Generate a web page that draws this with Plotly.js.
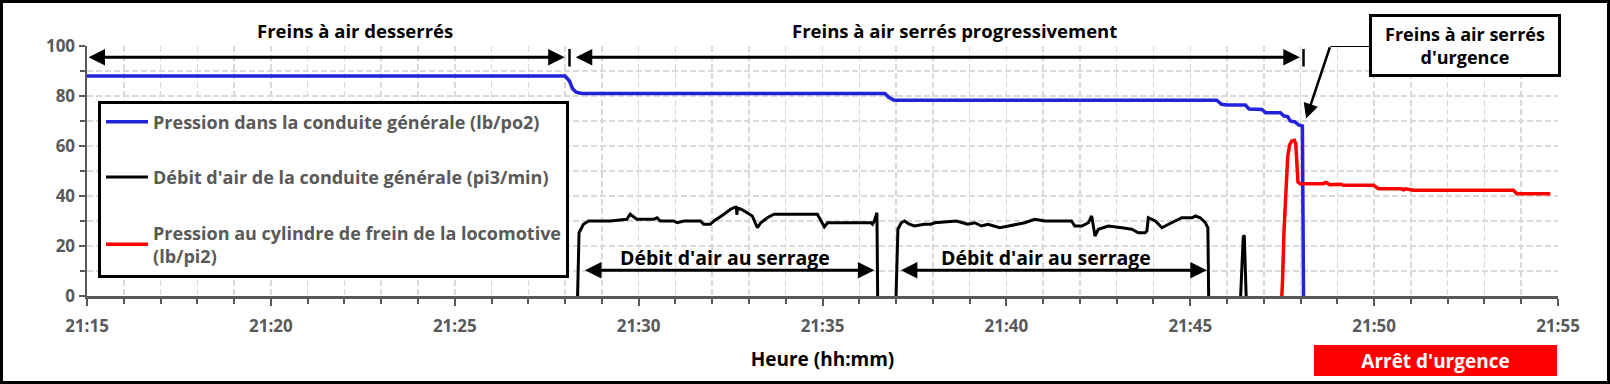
<!DOCTYPE html>
<html>
<head>
<meta charset="utf-8">
<script src="https://cdn.plot.ly/plotly-3.0.1.min.js"></script>
<style>
  html, body { margin:0; padding:0; background:#fff; }
  #chart { width:1604px; height:378px; border:3px solid #000; }
</style>
</head>
<body>
<div id="chart"></div>
<script>
// Time axis: minutes after 21:15
const tickVals = [0, 5, 10, 15, 20, 25, 30, 35, 40];
const tickLabels = ['21:15', '21:20', '21:25', '21:30', '21:35', '21:40', '21:45', '21:50', '21:55'];

const seriesNames = [
  'Pression dans la conduite générale (lb/po2)',
  "Débit d'air de la conduite générale (pi3/min)",
  'Pression au cylindre de frein de la locomotive<br>(lb/pi2)'
];

// Pression dans la conduite générale (lb/po2)
const brakePipeT = [0, 13.0, 13.12, 13.2, 13.3, 13.45, 21.7, 21.8, 21.95, 30.72, 30.85, 31.0, 31.5, 31.6, 31.95, 32.05, 32.45, 32.55, 32.65, 32.72, 32.85, 32.95, 33.05, 33.08];
const brakePipeP = [88, 88, 86, 83, 81.5, 81, 81, 79.5, 78.3, 78.3, 76.7, 76.4, 76.4, 74.8, 74.6, 73.3, 73.3, 72, 71.8, 70, 69.6, 68.4, 68, 0];

// Débit d'air de la conduite générale (pi3/min) — null where the flow rests at zero (under the axis)
const airFlowT = [13.34, 13.38, 13.50, 13.64, 14.23, 14.68, 14.77, 14.95, 15.41, 15.50, 15.59, 15.95, 16.05, 16.23, 16.68, 16.77, 16.95, 17.05, 17.32, 17.50, 17.62, 17.66, 17.67, 17.69, 17.82, 18.00, 18.09, 18.23, 18.32, 18.50, 18.68, 19.86, 20.00, 20.05, 20.14, 21.32, 21.36, 21.41, 21.48, 21.50, 21.75,
  22.00, 22.05, 22.14, 22.23, 22.36, 22.50, 22.77, 22.95, 23.05, 23.64, 23.95, 24.14, 24.32, 24.50, 24.82, 25.05, 25.23, 25.50, 25.77, 26.05, 26.77, 26.86, 27.05, 27.23, 27.32, 27.41, 27.50, 27.77, 28.14, 28.41, 28.59, 28.77, 28.82, 28.86, 29.05, 29.23, 29.41, 29.59, 29.77, 30.05, 30.14, 30.27, 30.41, 30.48, 30.50, 30.9,
  31.37, 31.44, 31.47, 31.52];
const airFlowQ = [0, 25.3, 28.7, 30, 30, 30.7, 32.7, 30.7, 30.7, 31.3, 30, 30, 29.3, 30, 30, 28.7, 28.7, 30, 32.7, 34.7, 35.5, 35.5, 32.5, 35.3, 34.5, 32.7, 32, 27.3, 29.3, 31.3, 32.7, 32.7, 29.3, 27.7, 29.3, 29.3, 28.7, 30, 33.3, 0, null,
  0, 26.7, 29.3, 30, 28.7, 28, 28.7, 28.7, 29.3, 30, 28.7, 29.3, 28, 28.7, 27.3, 28, 28.7, 29.3, 30.7, 30, 30, 28, 28, 29.3, 32, 24, 26.7, 28, 27.3, 26.7, 25.3, 25.3, 26, 31.3, 30, 27.3, 28.7, 30, 31.3, 31.3, 32, 31.3, 29.3, 27.3, 0, null,
  0, 23.5, 24.3, 0];

// Pression au cylindre de frein de la locomotive (lb/pi2)
const cylinderT = [32.49, 32.51, 32.55, 32.61, 32.65, 32.70, 32.76, 32.83, 32.87, 32.90, 32.93, 32.99, 33.6, 33.7, 33.8, 34.1, 34.16, 34.98, 35.12, 35.75, 35.8, 35.85, 36.07, 38.79, 38.88, 39.79];
const cylinderP = [0, 6.3, 26.3, 46.3, 55.6, 60.3, 62, 62.3, 60.9, 52.9, 45.6, 44.9, 44.9, 45.4, 44.5, 44.7, 44.3, 44.3, 42.9, 42.9, 42.4, 42.9, 42.3, 42.3, 40.9, 40.9];

// Annotation texts
const phaseLabels = ['Freins à air desserrés', 'Freins à air serrés progressivement'];
const flowLabel = "Débit d'air au serrage";
const urgentLabel = "Freins à air serrés<br>d'urgence";
const stopLabel = "Arrêt d'urgence";

const FONT = "'Open Sans', sans-serif";
const GRID = '#D9D9D9';
const AXIS = '#595959';

const traces = [
  { x: brakePipeT, y: brakePipeP, name: seriesNames[0], mode: 'lines', line: { color: '#2222DD', width: 3.5 }, legendgroup: 'a' },
  { x: airFlowT, y: airFlowQ, name: seriesNames[1], mode: 'lines', line: { color: '#000000', width: 3 }, legendgroup: 'b', connectgaps: false },
  { x: cylinderT, y: cylinderP, name: seriesNames[2], mode: 'lines', line: { color: '#FF0000', width: 3.5 }, legendgroup: 'c' }
];

function dblArrow(x0, x1, y) {
  return { x: x1, y: y, ax: x0, ay: y, xref: 'x', yref: 'y', axref: 'x', ayref: 'y', text: '', showarrow: true,
    arrowside: 'end+start', arrowhead: 2, startarrowhead: 2, arrowwidth: 3, arrowsize: 1.1, startarrowsize: 1.1,
    standoff: 0, startstandoff: 0, arrowcolor: '#000' };
}
function label(txt, x, y, yref, size) {
  return { x: x, y: y, xref: 'x', yref: yref, text: txt, showarrow: false, xanchor: 'center', yanchor: 'middle',
    font: { family: FONT, size: size, color: '#000', weight: 'bold' } };
}

const annotations = [
  label(phaseLabels[0], 7.3, 1.062, 'paper', 18.5),
  label(phaseLabels[1], 23.6, 1.062, 'paper', 18.5),
  dblArrow(0, 12.99, 95.5),
  dblArrow(13.25, 32.98, 95.5),
  label(flowLabel, 17.36, 15.6, 'y', 19.5),
  label(flowLabel, 26.09, 15.6, 'y', 19.5),
  dblArrow(13.5, 21.41, 10.3),
  dblArrow(22.09, 30.45, 10.3),
  { x: 37.46, y: 1.002, xref: 'x', yref: 'paper', xanchor: 'center', yanchor: 'middle', text: urgentLabel, showarrow: false,
    width: 186, height: 57, borderpad: 0, borderwidth: 3, bordercolor: '#000', bgcolor: '#fff',
    font: { family: FONT, size: 18, color: '#000', weight: 'bold' } },
  { x: 33.15, y: 71.0, ax: 33.81, ay: 100.1, xref: 'x', yref: 'y', axref: 'x', ayref: 'y', text: '', showarrow: true,
    arrowhead: 2, arrowwidth: 2.5, arrowsize: 1.2, standoff: 0, arrowcolor: '#000' },
  { x: 36.66, y: -0.258, xref: 'x', yref: 'paper', xanchor: 'center', yanchor: 'middle', text: stopLabel, showarrow: false,
    width: 243, height: 31, borderpad: 0, borderwidth: 0, bgcolor: '#FF0000',
    font: { family: FONT, size: 19, color: '#fff', weight: 'bold' } }
];

const shapes = [
  { type: 'line', xref: 'x', yref: 'y', x0: 13.12, x1: 13.12, y0: 91.8, y1: 98.8, line: { color: '#000', width: 2.5 } },
  { type: 'line', xref: 'x', yref: 'y', x0: 33.08, x1: 33.08, y0: 91.8, y1: 98.8, line: { color: '#000', width: 2.5 } },
  { type: 'line', xref: 'x', yref: 'y', x0: 33.81, x1: 34.9, y0: 100.1, y1: 100.1, line: { color: '#000', width: 2.5 } }
];

const layout = {
  width: 1604, height: 378,
  margin: { l: 84, r: 49, t: 43, b: 85 },
  paper_bgcolor: '#fff', plot_bgcolor: '#fff',
  font: { family: FONT, color: AXIS },
  showlegend: true,
  legend: {
    x: 0.0075, y: 0.782, xanchor: 'left', yanchor: 'top',
    bgcolor: '#fff', bordercolor: '#000', borderwidth: 3,
    font: { family: FONT, size: 18, color: '#595959', weight: 'bold' },
    tracegroupgap: 29, traceorder: 'grouped', itemwidth: 42
  },
  xaxis: {
    range: [0, 40], tickmode: 'array', tickvals: tickVals, ticktext: tickLabels,
    showline: true, linecolor: AXIS, linewidth: 2.5,
    ticks: 'outside', ticklen: 7, tickwidth: 2, tickcolor: AXIS,
    ticklabelstandoff: 6,
    tickfont: { family: FONT, size: 17, color: AXIS, weight: 'bold' },
    showgrid: true, gridcolor: GRID, gridwidth: 1.5, griddash: '6px,3px',
    zeroline: false,
    minor: { tickmode: 'linear', tick0: 0, dtick: 1, ticks: 'outside', ticklen: 5, tickwidth: 2, tickcolor: AXIS,
      showgrid: true, gridcolor: GRID, gridwidth: 1.5, griddash: '6px,3px' },
    title: { text: 'Heure (hh:mm)', standoff: 17, font: { family: FONT, size: 19, color: '#000', weight: 'bold' } }
  },
  yaxis: {
    range: [0, 100], tickmode: 'linear', tick0: 0, dtick: 20,
    showline: true, linecolor: AXIS, linewidth: 2.5,
    ticks: 'outside', ticklen: 6, tickwidth: 2, tickcolor: AXIS,
    tickfont: { family: FONT, size: 17, color: AXIS, weight: 'bold' },
    showgrid: true, gridcolor: GRID, gridwidth: 1.5, griddash: '6px,3px',
    zeroline: false,
    minor: { tickmode: 'linear', tick0: 0, dtick: 10, ticks: 'outside', ticklen: 5, tickwidth: 2, tickcolor: AXIS,
      showgrid: true, gridcolor: GRID, gridwidth: 1.5, griddash: '6px,3px' }
  },
  annotations: annotations,
  shapes: shapes
};

Plotly.newPlot('chart', traces, layout, { displayModeBar: false, staticPlot: true });
</script>
</body>
</html>
